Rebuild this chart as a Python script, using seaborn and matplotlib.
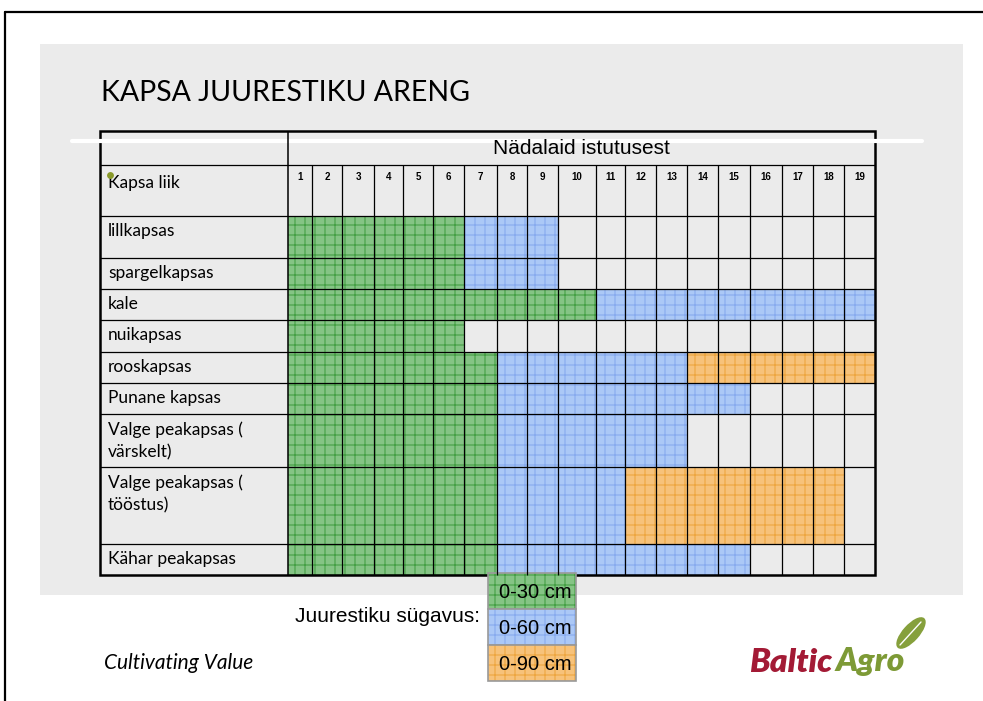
import numpy as np
import pandas as pd
import matplotlib.pyplot as plt
import matplotlib.patches as mpatches
import seaborn as sns

# ---- data ----
title = "KAPSA JUURESTIKU ARENG"
header_text = "Nädalaid istutusest"
first_col = "Kapsa liik"
weeks = list(range(1, 20))
crops = ["lillkapsas", "spargelkapsas", "kale", "nuikapsas", "rooskapsas",
         "Punane kapsas", "Valge peakapsas (\nvärskelt)",
         "Valge peakapsas (\ntööstus)", "Kähar peakapsas"]
# last week (since planting) of each root depth stage
end_0_30 = [6, 6, 10, 6, 7, 7, 7, 7, 7]
end_0_60 = [9, 9, 19, 6, 13, 15, 13, 11, 15]
end_0_90 = [9, 9, 19, 6, 19, 15, 13, 18, 15]
depth_labels = ["0-30 cm", "0-60 cm", "0-90 cm"]
legend_title = "Juurestiku sügavus:"

# ---- layout (pixels) ----
DPI = 120          # hatch spacing scales with dpi; 120 gives ~10 px cells
S = 100 / DPI      # sizes below were tuned at 100 dpi
tab_left, tab_top = 100, 131
label_w = 188
col_w = [24, 30, 32, 29, 30, 31, 33, 30, 31, 38, 29, 31, 31, 31, 32, 32, 31, 31, 31]
head_h = [34, 51]
row_h = [42, 31, 31, 32, 31, 31, 53, 77, 31]

fills = ["#85c485", "#abc8f6", "#f7c27a"]
hatch_cols = ["#45a045", "#88abee", "#eea640"]
slide_grey = "#ebebeb"

sns.set_theme(style="white")
plt.rcParams["font.family"] = ["Liberation Sans", "DejaVu Sans"]
plt.rcParams["text.color"] = "black"
plt.rcParams["hatch.linewidth"] = 0.8 * S
calibri_like = ["Lato", "DejaVu Sans"]

# build cell table
rows = []
for i, crop in enumerate(crops):
    for w in weeks:
        for k, ends in enumerate([end_0_30, end_0_60, end_0_90]):
            if w <= ends[i]:
                rows.append({"crop": i, "week": w, "depth": k})
                break
cells = pd.DataFrame(rows)

col_left = tab_left + label_w + np.concatenate([[0], np.cumsum(col_w)[:-1]])
tab_right = tab_left + label_w + sum(col_w)
body_top = tab_top + sum(head_h)
row_top = body_top + np.concatenate([[0], np.cumsum(row_h)[:-1]])
tab_bottom = body_top + sum(row_h)

fig = plt.figure(figsize=(983 / DPI, 701 / DPI), dpi=DPI)
ax = fig.add_axes([0, 0, 1, 1])
ax.set_xlim(0, 983)
ax.set_ylim(701, 0)
ax.axis("off")

# slide frame + grey panel
ax.plot([5, 5], [12, 701], color="black", lw=1.6 * S)
ax.plot([5, 983], [12, 12], color="black", lw=1.6 * S)
ax.add_patch(mpatches.Rectangle((40, 44), 923, 551, color=slide_grey, lw=0))
ax.text(101, 93, title, fontsize=20.5 * S, family=calibri_like, va="center", ha="left")
ax.plot([72, 922], [141, 141], color="white", lw=3 * S)

# cells
for k in range(3):
    sub = cells[cells["depth"] == k]
    ax.bar(col_left[sub["week"] - 1], np.array(row_h)[sub["crop"]],
           width=np.array(col_w)[sub["week"] - 1],
           bottom=row_top[sub["crop"]], align="edge",
           color=fills[k], edgecolor=hatch_cols[k], lw=0, hatch="++")

# grid lines
y_lines = np.concatenate([[tab_top + head_h[0], body_top], row_top[1:]])
ax.hlines(y_lines, tab_left, tab_right, color="black", lw=0.9 * S)
ax.vlines(col_left[1:], tab_top + head_h[0], tab_bottom, color="black", lw=0.9 * S)
ax.vlines(tab_left + label_w, tab_top, tab_bottom, color="black", lw=1.1 * S)
ax.add_patch(mpatches.Rectangle((tab_left, tab_top), tab_right - tab_left,
                                tab_bottom - tab_top, fill=False,
                                edgecolor="black", lw=1.8 * S))

# header text
ax.text((tab_left + label_w + tab_right) / 2, tab_top + 18, header_text,
        fontsize=15 * S, ha="center", va="center")
for w in weeks:
    ax.text(col_left[w - 1] + col_w[w - 1] / 2, tab_top + head_h[0] + 12, str(w),
            fontsize=7 * S, fontweight="bold", ha="center", va="center")
ax.text(108, tab_top + head_h[0] + 18, first_col, fontsize=12.5 * S,
        family=calibri_like, va="center")
ax.scatter([110], [175], s=14 * S * S, color="#8a9a2a", zorder=5)
for i, crop in enumerate(crops):
    ax.text(108, row_top[i] + 7, crop, fontsize=12.5 * S, family=calibri_like,
            va="top", linespacing=1.5)

# legend
ax.text(295, 616, legend_title, fontsize=15 * S, va="center", ha="left")
leg_top = [573, 609, 645]
for k, lab in enumerate(depth_labels):
    ax.bar([488], [36], width=[88], bottom=[leg_top[k]], align="edge",
           color=fills[k], edgecolor=hatch_cols[k], lw=0, hatch="++")
    ax.add_patch(mpatches.Rectangle((488, leg_top[k]), 88, 36, fill=False,
                                    edgecolor="#999999", lw=1.2 * S))
    ax.text(535, leg_top[k] + 19, lab, fontsize=14.5 * S, ha="center", va="center")

# footer
ax.text(104, 663, "Cultivating Value", fontsize=15 * S, style="italic",
        family=calibri_like, va="center")
ax.text(749, 662, "Baltic", fontsize=24 * S, style="italic", fontweight="heavy",
        family=calibri_like, color="#a31a35", va="center")
ax.text(836, 662, "Agro", fontsize=24 * S, style="italic", fontweight="heavy",
        family=calibri_like, color="#7d9a36", va="center")
ax.add_patch(mpatches.Ellipse((911, 633), 38, 15, angle=-48, color="#86a03c"))
ax.plot([900, 921], [645, 622], color="white", lw=1.0 * S)

fig.savefig("out.png", dpi=DPI)
